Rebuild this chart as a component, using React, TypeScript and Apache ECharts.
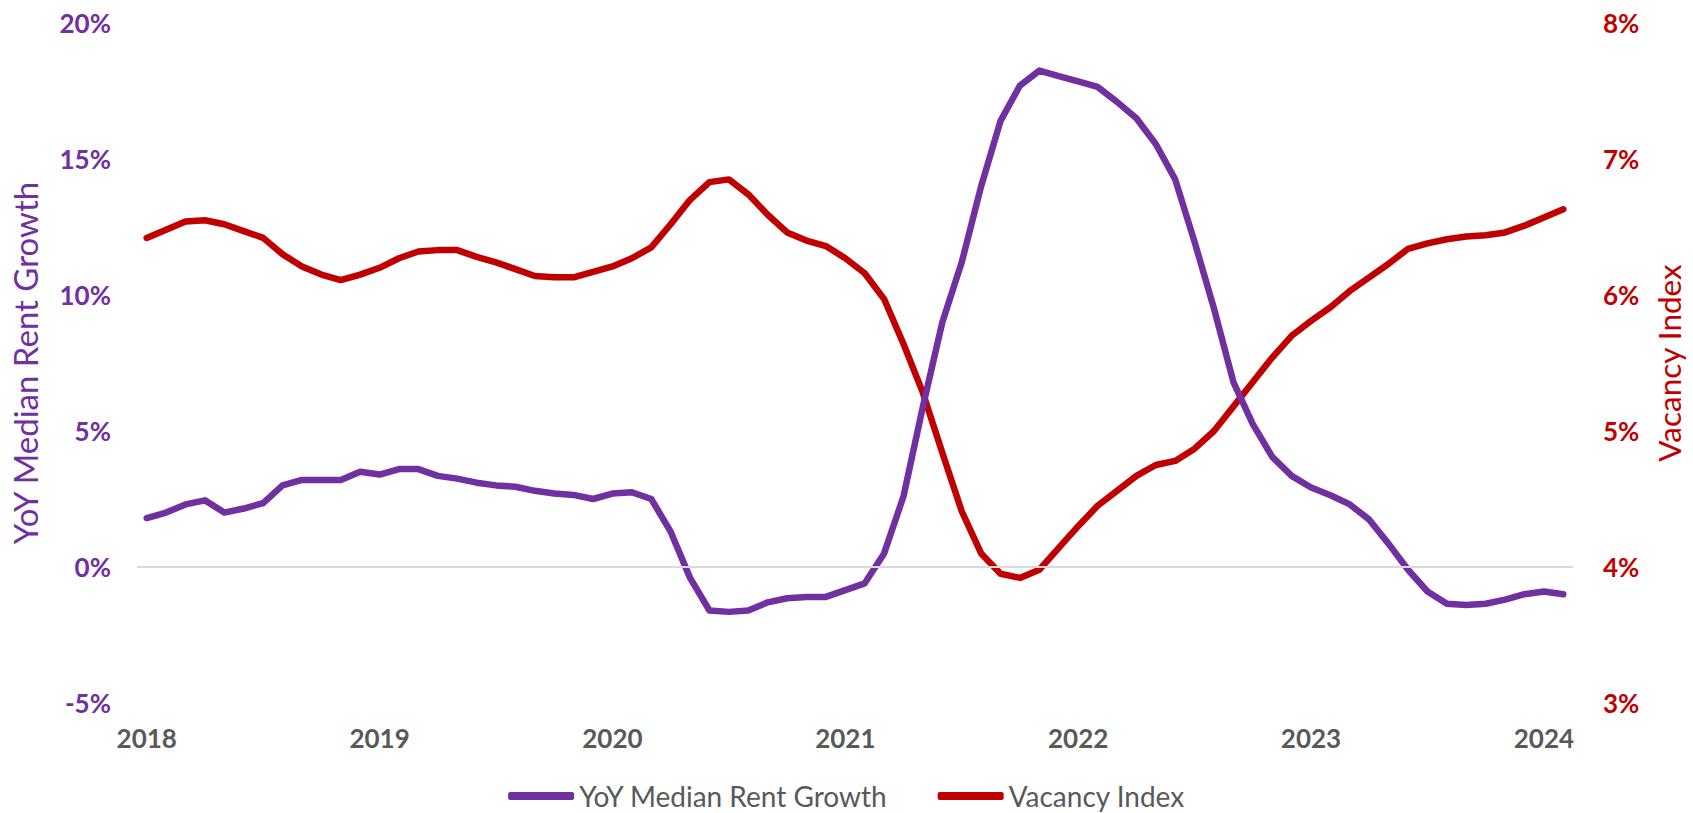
import React, { useEffect, useRef } from "react";
import * as echarts from "echarts";

// Monthly observations, January 2018 through February 2024
const START_YEAR = 2018;
const MONTH_COUNT = 74;
const months: string[] = [];
for (let i = 0; i < MONTH_COUNT; i++) {
  const y = START_YEAR + Math.floor(i / 12);
  const m = (i % 12) + 1;
  months.push(`${y}-${m < 10 ? "0" + m : m}`);
}

// Year-over-year median rent growth, %
const rentGrowth = [
  1.8, 2.0, 2.3, 2.45, 2.0, 2.15, 2.35, 3.0, 3.2, 3.2, 3.2, 3.5,
  3.4, 3.6, 3.6, 3.35, 3.25, 3.1, 3.0, 2.95, 2.8, 2.7, 2.65, 2.5,
  2.7, 2.75, 2.5, 1.3, -0.4, -1.6, -1.65, -1.6, -1.3, -1.15, -1.1, -1.1,
  -0.85, -0.6, 0.5, 2.6, 5.9, 9.0, 11.2, 14.0, 16.4, 17.7, 18.25, 18.05,
  17.85, 17.65, 17.1, 16.5, 15.55, 14.25, 11.95, 9.5, 6.8, 5.25, 4.05, 3.35,
  2.92, 2.64, 2.3, 1.74, 0.85, -0.1, -0.9, -1.35, -1.4, -1.35, -1.2, -1.0,
  -0.9, -1.0,
];

// Vacancy index, %
const vacancyIndex = [
  6.42, 6.48, 6.54, 6.55, 6.52, 6.47, 6.42, 6.3, 6.21, 6.15, 6.11, 6.15,
  6.2, 6.27, 6.32, 6.33, 6.33, 6.28, 6.24, 6.19, 6.14, 6.13, 6.13, 6.17,
  6.21, 6.27, 6.35, 6.52, 6.7, 6.83, 6.85, 6.74, 6.59, 6.46, 6.4, 6.36,
  6.27, 6.16, 5.97, 5.64, 5.28, 4.84, 4.41, 4.1, 3.95, 3.92, 3.98, 4.14,
  4.3, 4.45, 4.56, 4.67, 4.75, 4.78, 4.87, 5.0, 5.18, 5.36, 5.54, 5.7,
  5.81, 5.91, 6.03, 6.13, 6.23, 6.34, 6.38, 6.41, 6.43, 6.44, 6.46, 6.51,
  6.57, 6.63,
];

const PURPLE = "#7030A0";
const RED = "#C00000";
const GRAY_TEXT = "#595959";
const FONT = "Lato";

export default function App() {
  const ref = useRef<HTMLDivElement>(null);

  useEffect(() => {
    if (!ref.current) return;
    const chart = echarts.init(ref.current, undefined, { renderer: "svg" });
    chart.setOption({
      animation: false,
      backgroundColor: "#ffffff",
      grid: { left: 136, right: 116, top: 23, bottom: 110, containLabel: false },
      legend: {
        data: ["YoY Median Rent Growth", "Vacancy Index"],
        left: "center",
        top: 782,
        padding: 0,
        icon: "roundRect",
        itemWidth: 66,
        itemHeight: 8,
        itemGap: 50,
        textStyle: {
          color: GRAY_TEXT,
          fontSize: 28,
          lineHeight: 28,
          fontFamily: FONT,
        },
      },
      xAxis: {
        type: "category",
        data: months,
        boundaryGap: true,
        axisLine: { show: false },
        axisTick: { show: false },
        splitLine: { show: false },
        axisLabel: {
          interval: 11,
          formatter: (v: string) => v.slice(0, 4),
          color: GRAY_TEXT,
          fontSize: 26,
          fontWeight: "bold",
          fontFamily: FONT,
          margin: 22,
        },
      },
      yAxis: [
        {
          type: "value",
          min: -5,
          max: 20,
          interval: 5,
          position: "left",
          axisLine: { show: false },
          axisTick: { show: false },
          splitLine: { show: false },
          axisLabel: {
            formatter: (v: number) => `${v}%`,
            color: PURPLE,
            fontSize: 26,
            fontWeight: "bold",
            fontFamily: FONT,
            margin: 26,
          },
          name: "YoY Median Rent Growth",
          nameLocation: "middle",
          nameRotate: 90,
          nameGap: 96,
          nameTextStyle: { color: PURPLE, fontSize: 33, fontFamily: FONT },
        },
        {
          type: "value",
          min: 3,
          max: 8,
          interval: 1,
          position: "right",
          axisLine: { show: false },
          axisTick: { show: false },
          splitLine: { show: false },
          axisLabel: {
            formatter: (v: number) => `${v}%`,
            color: RED,
            fontSize: 26,
            fontWeight: "bold",
            fontFamily: FONT,
            margin: 30,
          },
          name: "Vacancy Index",
          nameLocation: "middle",
          nameRotate: 90,
          nameGap: 80,
          nameTextStyle: { color: RED, fontSize: 31.5, fontFamily: FONT },
        },
      ],
      series: [
        {
          name: "zero",
          type: "line",
          data: [],
          yAxisIndex: 0,
          z: 1,
          silent: true,
          markLine: {
            silent: true,
            symbol: "none",
            label: { show: false },
            lineStyle: { color: "#d9d9d9", width: 2, type: "solid" },
            data: [{ yAxis: 0 }],
          },
        },
        {
          name: "YoY Median Rent Growth",
          type: "line",
          data: rentGrowth,
          yAxisIndex: 0,
          z: 3,
          showSymbol: false,
          symbol: "none",
          color: PURPLE,
          lineStyle: { color: PURPLE, width: 6.5, cap: "round", join: "round" },
        },
        {
          name: "Vacancy Index",
          type: "line",
          data: vacancyIndex,
          yAxisIndex: 1,
          z: 2,
          showSymbol: false,
          symbol: "none",
          color: RED,
          lineStyle: { color: RED, width: 6.5, cap: "round", join: "round" },
        },
      ],
    });
    return () => chart.dispose();
  }, []);

  return (
    <div
      ref={ref}
      style={{ position: "fixed", left: 0, top: 0, width: 1693, height: 813 }}
    />
  );
}
